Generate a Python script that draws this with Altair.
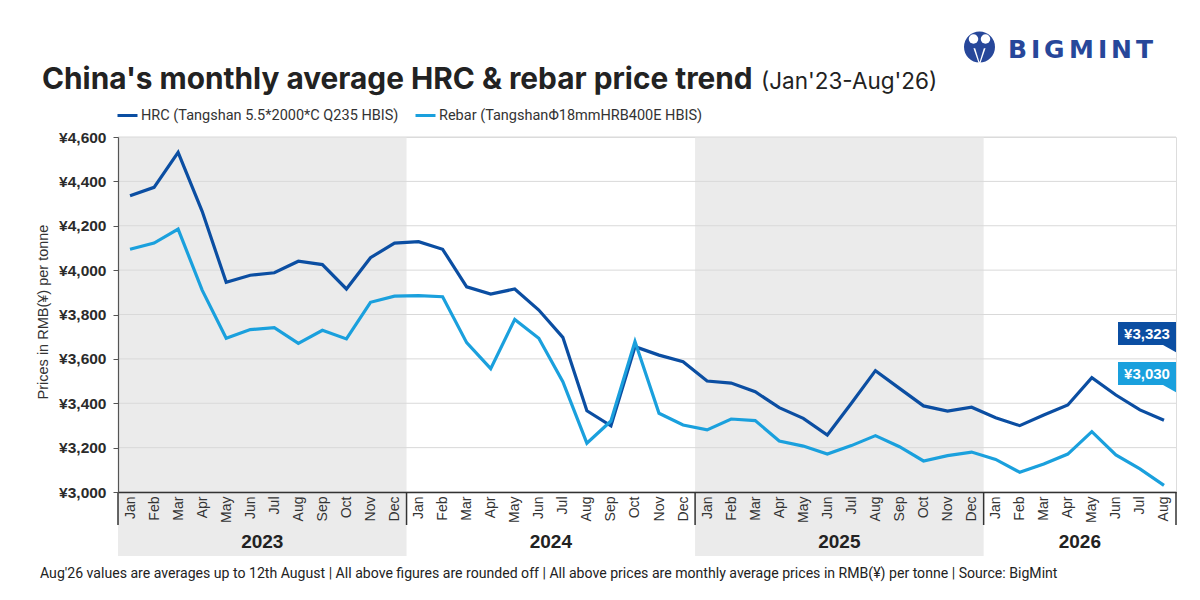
import altair as alt
import pandas as pd

# ---------------- data ----------------
MONTHS = ["Jan", "Feb", "Mar", "Apr", "May", "Jun", "Jul", "Aug", "Sep", "Oct", "Nov", "Dec"]
YEARS = ["2023", "2024", "2025", "2026"]
N_MONTHS = 44  # Jan'23 .. Aug'26

HRC_NAME = "HRC (Tangshan 5.5*2000*C Q235 HBIS)"
REBAR_NAME = "Rebar (TangshanΦ18mmHRB400E HBIS)"

HRC = [4335, 4373, 4531, 4265, 3945, 3977, 3988, 4040, 4025, 3915, 4056, 4122,
       4128, 4094, 3925, 3892, 3915, 3820, 3697, 3366, 3298, 3655, 3617, 3587,
       3500, 3491, 3452, 3380, 3332, 3257, 3400, 3547, 3467, 3388, 3365, 3382,
       3335, 3299, 3347, 3392, 3515, 3437, 3370, 3323]
REBAR = [4094, 4122, 4185, 3910, 3693, 3732, 3741, 3670, 3729, 3690, 3855, 3883,
         3885, 3880, 3673, 3556, 3778, 3693, 3497, 3220, 3320, 3678, 3355, 3302,
         3280, 3329, 3322, 3230, 3207, 3171, 3209, 3254, 3204, 3140, 3164, 3180,
         3147, 3089, 3126, 3171, 3272, 3167, 3104, 3030]
Y_TICKS = [3000, 3200, 3400, 3600, 3800, 4000, 4200, 4400, 4600]

TITLE = "China's monthly average HRC & rebar price trend"
SUBTITLE = "(Jan'23-Aug'26)"
FOOTER = ("Aug'26 values are averages up to 12th August | All above figures are rounded off | "
          "All above prices are monthly average prices in RMB(¥) per tonne | Source: BigMint")
Y_TITLE = "Prices in RMB(¥) per tonne"
LOGO_LETTERS = ["B", "I", "G", "M", "I", "N", "T"]

# ---------------- styling ----------------
W, H = 1058, 355
HRC_COLOR = "#0b4ea2"
REBAR_COLOR = "#1aa0dd"
BAND = "#ebebeb"
FONT = "Roboto"
TITLEFONT = "Inter"
TICKFONT = "Liberation Sans"
LOGO_BLUE = "#27479a"

rows = []
for i in range(N_MONTHS):
    rows.append({"idx": i, "series": HRC_NAME, "value": HRC[i]})
    rows.append({"idx": i, "series": REBAR_NAME, "value": REBAR[i]})
df = pd.DataFrame(rows)

year_rows = []
for k, yr in enumerate(YEARS):
    start = k * 12
    end = min(start + 12, N_MONTHS)
    year_rows.append({"year": yr, "x0": start - 0.5, "x1": end - 0.5,
                      "mid": (start + end - 1) / 2, "shade": k % 2 == 0})
years_df = pd.DataFrame(year_rows)
bounds_df = pd.DataFrame({"b": [-0.5] + [r["x1"] for r in year_rows]})

xscale = alt.Scale(domain=[-0.5, N_MONTHS - 0.5], nice=False, zero=False)
yscale = alt.Scale(domain=[Y_TICKS[0], Y_TICKS[-1]], nice=False, zero=False)

month_expr = "[" + ",".join(f"'{m}'" for m in MONTHS) + "][datum.value % 12]"

X_AXIS = alt.Axis(values=list(range(N_MONTHS)), labelExpr=month_expr, labelAngle=270,
                  ticks=False, grid=False, domainColor="#333333", domainWidth=1.5,
                  labelFont=TICKFONT, labelFontSize=14, labelColor="#333333",
                  labelPadding=4, labelOverlap=False, title=None, zindex=1)
Y_AXIS = alt.Axis(values=Y_TICKS, labelExpr="'¥' + format(datum.value, ',')",
                  labelFont=TICKFONT, labelFontSize=15.5, labelFontWeight="bold",
                  labelColor="#2b2b2b", tickSize=5, tickColor="#555555",
                  domainColor="#555555", domainWidth=1.2, grid=False,
                  labelPadding=7, title=None, zindex=1)

bands = alt.Chart(years_df[years_df["shade"]]).mark_rect(color=BAND).encode(
    x=alt.X("x0:Q", scale=xscale, axis=X_AXIS),
    x2="x1:Q",
    y=alt.value(0),
    y2=alt.value(419),
)

grid = alt.Chart(pd.DataFrame({"v": Y_TICKS})).mark_rule(color="#d9d9d9", strokeWidth=1).encode(
    y=alt.Y("v:Q", scale=yscale, axis=Y_AXIS),
    x=alt.value(0),
    x2=alt.value(W),
)

lines = alt.Chart(df).mark_line(strokeWidth=3.2).encode(
    x=alt.X("idx:Q", scale=xscale, axis=X_AXIS),
    y=alt.Y("value:Q", scale=yscale, axis=Y_AXIS),
    color=alt.Color("series:N",
                    scale=alt.Scale(domain=[HRC_NAME, REBAR_NAME], range=[HRC_COLOR, REBAR_COLOR]),
                    legend=alt.Legend(orient="none", legendX=-2, legendY=-33, direction="horizontal",
                                      symbolType="stroke", symbolStrokeWidth=3, symbolSize=400,
                                      labelFont=FONT, labelFontSize=14.5, labelColor="#333333",
                                      labelOffset=2, columnPadding=10, labelLimit=500, title=None)),
)

seps = alt.Chart(bounds_df).mark_rule(color="#333333", strokeWidth=1.5).encode(
    x=alt.X("b:Q", scale=xscale, axis=X_AXIS),
    y=alt.value(H),
    y2=alt.value(H + 33),
)

year_text = alt.Chart(years_df).mark_text(font=TICKFONT, fontSize=19, fontWeight="bold",
                                          color="#222222", baseline="middle").encode(
    x=alt.X("mid:Q", scale=xscale, axis=X_AXIS),
    y=alt.value(405),
    text="year:N",
)


# end-value flags
def flag(value, color, y0):
    lab = pd.DataFrame({"t": [f"¥{value:,}"]})
    box = alt.Chart(lab).mark_rect(color=color).encode(
        x=alt.value(W - 58), x2=alt.value(W), y=alt.value(y0), y2=alt.value(y0 + 23))
    tail = alt.Chart(lab).mark_point(shape="M -1 -1 L 1 -1 L 1 0.1 Z", filled=True, opacity=1,
                                     size=169, color=color, strokeWidth=0).encode(
        x=alt.value(W - 6.5), y=alt.value(y0 + 23 + 6.5))
    txt = alt.Chart(lab).mark_text(font=TICKFONT, fontSize=15, fontWeight="bold", color="white",
                                   baseline="middle", align="center").encode(
        x=alt.value(W - 29), y=alt.value(y0 + 12), text="t:N")
    return box + tail + txt


flags = flag(HRC[-1], HRC_COLOR, 185) + flag(REBAR[-1], REBAR_COLOR, 225)


def label(text, x, y, size, weight="normal", color="#222222", font=FONT, align="left",
          baseline="alphabetic", angle=0):
    return alt.Chart(pd.DataFrame({"t": [text]})).mark_text(
        font=font, fontSize=size, fontWeight=weight, color=color, align=align,
        baseline=baseline, angle=angle).encode(x=alt.value(x), y=alt.value(y), text="t:N")


title = label(TITLE, -76, -48, 29.8, weight="bold", color="#222222", font=TITLEFONT)
subtitle = label(SUBTITLE, 643, -48, 22.5, color="#222222", font=TITLEFONT)
footer = label(FOOTER, -78, 437, 14.1, baseline="middle", color="#222222")
ytitle = label(Y_TITLE, -74, 175, 14.5, baseline="middle", align="center", angle=270,
               color="#333333", font=TICKFONT)

# logo
logo_circle = alt.Chart(pd.DataFrame({"t": [0]})).mark_point(
    shape="circle", filled=True, opacity=1, size=960, color=LOGO_BLUE).encode(
    x=alt.value(861.5), y=alt.value(-90))
logo_head1 = alt.Chart(pd.DataFrame({"t": [0]})).mark_point(
    shape="circle", filled=True, opacity=1, size=90, color="white").encode(
    x=alt.value(855.5), y=alt.value(-98))
logo_head2 = alt.Chart(pd.DataFrame({"t": [0]})).mark_point(
    shape="circle", filled=True, opacity=1, size=90, color="white").encode(
    x=alt.value(867.5), y=alt.value(-98))
logo_legs = alt.Chart(pd.DataFrame({"t": [0]})).mark_point(
    shape="M -0.5 -1 L 0 0.6 L 0.5 -1 L 0.7 -1 L 0 1 L -0.7 -1 Z", filled=True, opacity=1,
    size=300, color="white", strokeWidth=0).encode(x=alt.value(861.5), y=alt.value(-80))
letter_x = [890, 913, 926, 951, 980, 993, 1018]
logo_text = alt.layer(*[label(ch, lx, -79, 25, weight="bold", color=LOGO_BLUE, font="DejaVu Sans")
                        for ch, lx in zip(LOGO_LETTERS, letter_x)])

chart = alt.layer(
    bands, grid, lines, seps, year_text, flags, title, subtitle, footer, ytitle,
    logo_circle, logo_head1, logo_head2, logo_legs, logo_text
).properties(
    width=W, height=H,
    autosize=alt.AutoSizeParams(type="none"),
    padding={"left": 110, "top": 129, "right": 16, "bottom": 100},
).configure_view(strokeWidth=0).configure(background="white")

chart.save("out.html", embed_options={"renderer": "svg", "actions": False})
